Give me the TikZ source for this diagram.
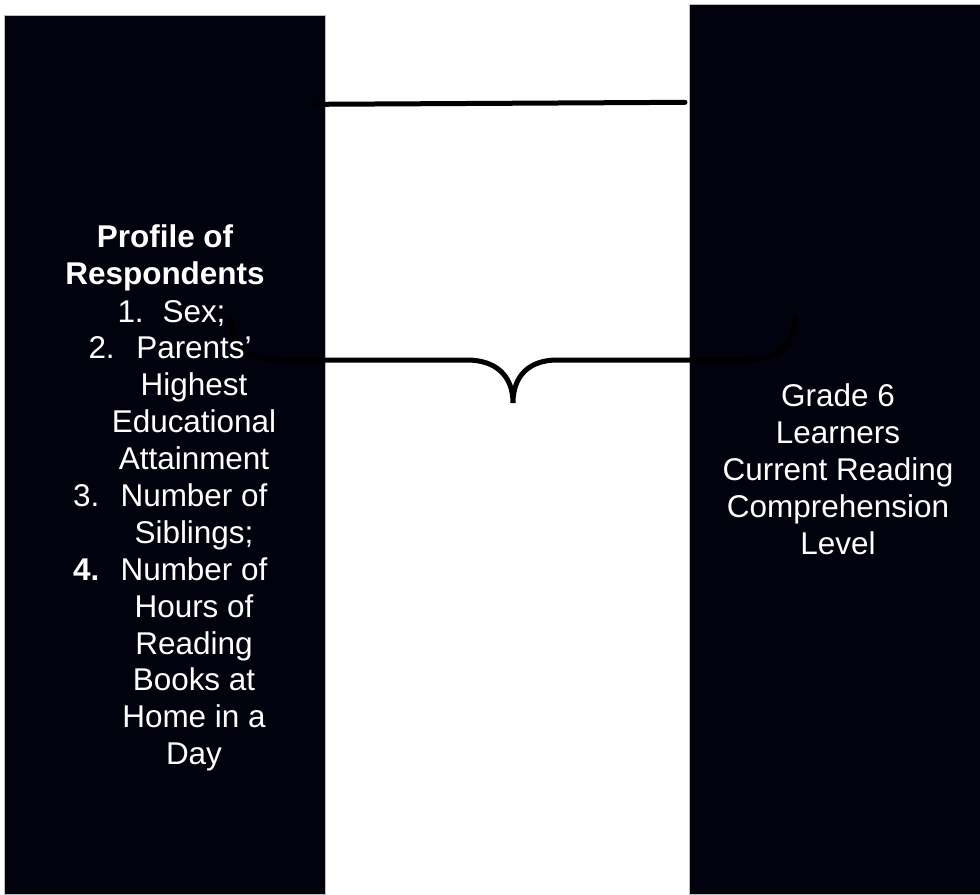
\documentclass[tikz,border=0pt]{standalone}
\usepackage{fontspec}
\setmainfont{Liberation Sans}
\usepackage{tikz}
\definecolor{boxfill}{RGB}{2,2,14}
\definecolor{boxline}{RGB}{190,190,190}
\tikzset{every picture/.style={line width=0.75pt}}

\begin{document}
\begin{tikzpicture}[x=0.75pt,y=0.75pt,yscale=-1,xscale=1,
		varbox/.style={fill=boxfill,draw=boxline,inner sep=0pt,anchor=north west},
		boxtext/.style={text=white,font=\fontsize{23.6}{27.7}\selectfont,align=center,inner sep=0pt,anchor=base},
		listnum/.style={text=white,font=\fontsize{23.6}{27.7}\selectfont,inner sep=0pt,anchor=base west},
		link/.style={line width=3.75pt,line cap=round}]
		\useasboundingbox (0,0) rectangle (980,894);
		%base of a multi-line node is its last line, so y below = last baseline
		
		%Shape: Rectangle [id:profile] 
		\node [varbox,minimum width=240.75pt,minimum height=659.25pt] (profile) at (4,15) {};
		%Shape: Rectangle [id:level] 
		\node [varbox,minimum width=218.6pt,minimum height=667.5pt] (level) at (688.5,4) {};
		
		%Straight Lines [id:top] 
		\coordinate (topL) at (318,104.3);
		\coordinate (topR) at (685,102.3);
		\draw [link]  (topL) -- (topR) ;
		
		%Curve Lines [id:brace] 
		\coordinate (braceL) at (230,318);
		\coordinate (braceTip) at (513,403);
		\coordinate (braceR) at (795,317);
		\draw [link]  (braceL) .. controls (230,345) and (250,360) .. (277,360) -- (467,360) .. controls (495,360) and (513,375) .. (braceTip) .. controls (513,375) and (530,360) .. (557,360) -- (748,360) .. controls (775,360) and (795,345) .. (braceR) ;
		
		% Text Node
		\node [boxtext,font=\fontsize{23.6}{27.7}\selectfont\bfseries] (head) at (165,284.9) {Profile of\\Respondents};
		% Text Node
		\node [listnum] (num1) at (117,322) {1.};
		\node [boxtext] (item1) at (194,322) {Sex;};
		% Text Node
		\node [listnum] (num2) at (88,358.9) {2.};
		\node [boxtext] (item2) at (194,469.6) {Parents’\\Highest\\Educational\\Attainment};
		% Text Node
		\node [listnum] (num3) at (72.7,506.5) {3.};
		\node [boxtext] (item3) at (194,543.4) {Number of\\Siblings;};
		% Text Node
		\node [listnum,font=\fontsize{23.6}{27.7}\selectfont\bfseries] (num4) at (72.7,580.3) {4.};
		\node [boxtext] (item4) at (194,764.8) {Number of\\Hours of\\Reading\\Books at\\Home in a\\Day};
		% Text Node
		\node [boxtext] (levelText) at (838,554) {Grade 6\\Learners\\Current Reading\\Comprehension\\Level};
		
\end{tikzpicture}
\end{document}
